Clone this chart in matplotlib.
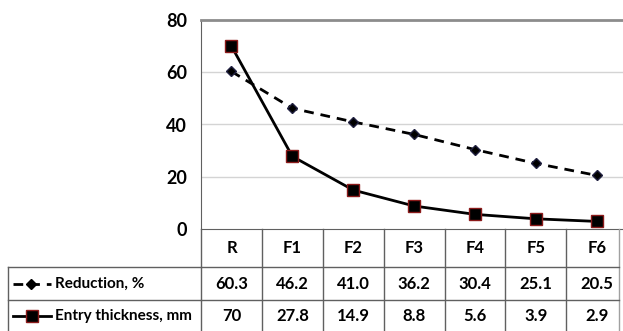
import matplotlib
matplotlib.use("Agg")
import matplotlib.pyplot as plt
from matplotlib.lines import Line2D
from matplotlib.transforms import blended_transform_factory

# data
STANDS = ["R", "F1", "F2", "F3", "F4", "F5", "F6"]
REDUCTION = [60.3, 46.2, 41.0, 36.2, 30.4, 25.1, 20.5]
ENTRY = [70, 27.8, 14.9, 8.8, 5.6, 3.9, 2.9]
REDUCTION_TXT = ["60.3", "46.2", "41.0", "36.2", "30.4", "25.1", "20.5"]
ENTRY_TXT = ["70", "27.8", "14.9", "8.8", "5.6", "3.9", "2.9"]
YTICKS = [0, 20, 40, 60, 80]

W, H = 623, 331
plt.rcParams['font.family'] = ['Lato', 'DejaVu Sans']
plt.rcParams['font.weight'] = 'bold'

fig = plt.figure(figsize=(W / 100, H / 100), dpi=100)
ax = fig.add_axes([201 / W, 1 - 229 / H, (W - 201) / W, 209 / H])

x = list(range(len(STANDS)))
ax.plot(x, REDUCTION, color="black", linestyle=(0, (3.5, 2.5)), linewidth=2,
        marker="D", markersize=5, markerfacecolor="black", markeredgecolor="#202040",
        zorder=3)
ax.plot(x, ENTRY, color="black", linewidth=2,
        marker="s", markersize=8, markerfacecolor="black", markeredgecolor="#8b1a1a",
        markeredgewidth=1, zorder=4)

ax.set_xlim(-0.5, 6.43)
ax.set_ylim(0, 80)
ax.set_yticks(YTICKS)
ax.set_yticklabels([str(v) for v in YTICKS], fontsize=13)
ax.set_xticks([])
ax.tick_params(axis="y", length=0, pad=10)
for v in YTICKS[1:-1]:
    ax.axhline(v, color="#d4d4d4", linewidth=1, zorder=1)
ax.spines["top"].set_color("#8c8c8c")
ax.spines["top"].set_linewidth(2)
ax.spines["right"].set_visible(False)
ax.spines["left"].set_color("#606060")
ax.spines["bottom"].set_color("#606060")

# table below the plot
tr = blended_transform_factory(ax.transData, fig.transFigure)
fy = lambda py: 1 - py / H
fx = lambda px: px / W
lc = "#606060"

def fline(xs, ys, transform, **kw):
    fig.add_artist(Line2D(xs, ys, transform=transform, color=kw.pop("color", lc),
                          linewidth=kw.pop("linewidth", 1), clip_on=False, **kw))

xr = 6.37  # right border of table
for k in range(len(STANDS)):
    fline([k - 0.5, k - 0.5], [fy(229), 0], tr)
fline([xr, xr], [fy(229), 0], tr, color="#a0a0a0")
fline([fx(8), fx(8)], [fy(267), 0], fig.transFigure)
fline([fx(8), fx(201)], [fy(267), fy(267)], fig.transFigure)
fline([fx(8), fx(201)], [fy(300), fy(300)], fig.transFigure)
fline([-0.5, xr], [fy(267), fy(267)], tr)
fline([-0.5, xr], [fy(300), fy(300)], tr)

for k, s in enumerate(STANDS):
    fig.text(k, fy(248), s, transform=tr, ha="center", va="center", fontsize=12)
    fig.text(k, fy(284), REDUCTION_TXT[k], transform=tr, ha="center", va="center", fontsize=12)
    fig.text(k, fy(316), ENTRY_TXT[k], transform=tr, ha="center", va="center", fontsize=12)

# legend keys in the row labels
fline([fx(13), fx(51)], [fy(284), fy(284)], fig.transFigure, color="black",
      linewidth=2, linestyle=(0, (3.5, 2.5)))
fline([fx(31)], [fy(284)], fig.transFigure, color="black", marker="D",
      markersize=5, linestyle="none")
fline([fx(13), fx(51)], [fy(316), fy(316)], fig.transFigure, color="black", linewidth=2)
fline([fx(32)], [fy(316)], fig.transFigure, color="black", marker="s", markersize=8,
      markeredgecolor="#8b1a1a", linestyle="none")
fig.text(fx(55), fy(284), "Reduction, %", ha="left", va="center", fontsize=11)
fig.text(fx(55), fy(316), "Entry thickness, mm", ha="left", va="center", fontsize=11)

fig.savefig("out.png", dpi=100)
